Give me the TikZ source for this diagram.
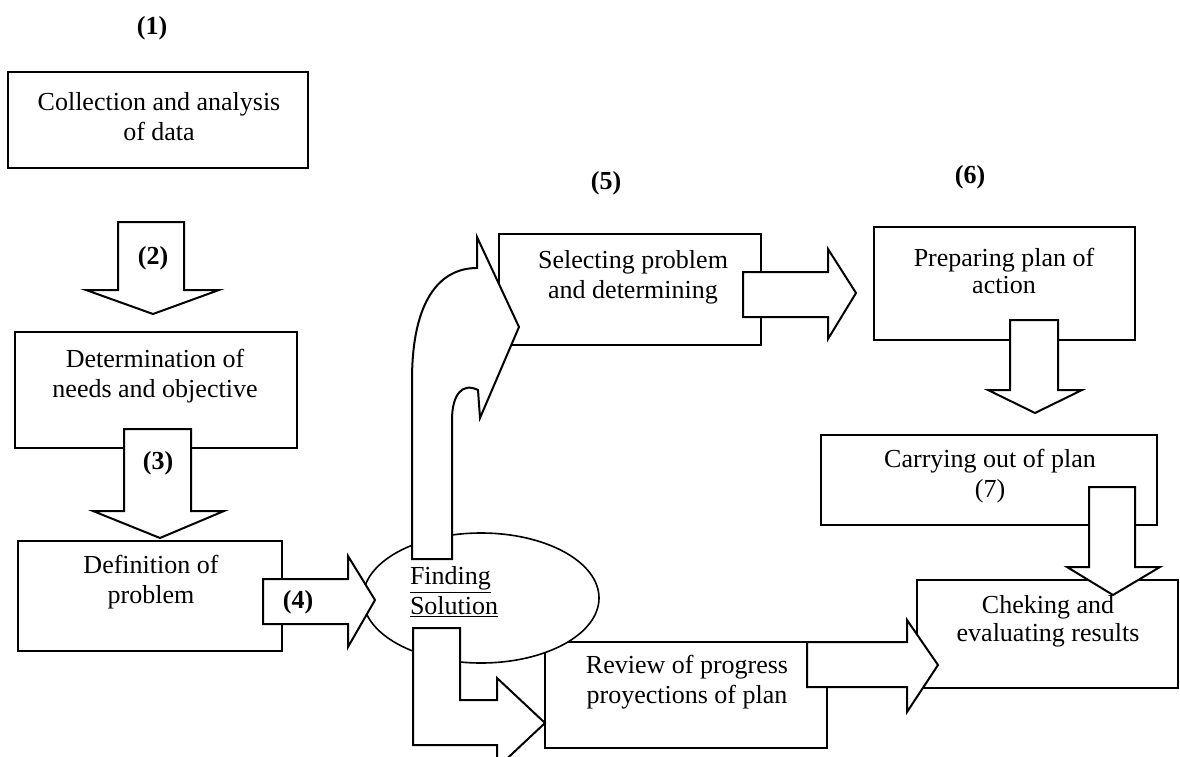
\documentclass[tikz,border=0pt]{standalone}
\usepackage{fontspec}
\setmainfont{Liberation Serif}
\usetikzlibrary{shapes.geometric}
\begin{document}
\begin{tikzpicture}[x=1pt,y=-1pt, line width=2pt, line join=miter,
  box/.style={draw, fill=white, rectangle, inner sep=0pt},
  oval/.style={draw, fill=white, ellipse, inner sep=0pt, line width=1.6pt},
  txt/.style={font=\fontsize{26}{30}\selectfont, align=center, inner sep=0pt},
  num/.style={font=\fontsize{26}{30}\selectfont\bfseries, inner sep=0pt},
  blk/.style={draw, fill=white, line join=miter}]
\useasboundingbox (0,0) rectangle (1180,757);
\clip (0,0) rectangle (1180,757);

% boxes
\node[box, minimum width=300pt, minimum height=96pt]  (b1) at (158,120) {};
\node[box, minimum width=282pt, minimum height=116pt] (b2) at (156,390) {};
\node[box, minimum width=264pt, minimum height=110pt] (b3) at (150,596) {};
\node[box, minimum width=262pt, minimum height=111pt] (b5) at (630,289.5) {};
\node[box, minimum width=261pt, minimum height=113pt] (b6) at (1004,283.5) {};
\node[box, minimum width=336pt, minimum height=90pt]  (b7) at (989,480) {};
\node[box, minimum width=261pt, minimum height=108pt] (b8) at (1047.5,634) {};
\node[box, minimum width=282pt, minimum height=106pt] (b9) at (686,695) {};
\node[oval, minimum width=236pt, minimum height=130pt] (fs) at (481,598) {};

% block arrows
\draw[blk] (118,222) -- (184,222) -- (184,290) -- (219,290) -- (153,314) -- (86,290) -- (118,290) -- cycle;
\draw[blk] (124,429) -- (191,429) -- (191,511) -- (224,511) -- (160,538) -- (93,511) -- (124,511) -- cycle;
\draw[blk] (263,579) -- (348,579) -- (348,556) -- (375,600) -- (348,647) -- (348,624) -- (263,624) -- cycle;
\draw[blk] (412,559) -- (412,380) .. controls (412,300) and (440,268) .. (477,268) -- (477,237) -- (519,327) -- (480,418) -- (478,390) .. controls (462,382) and (452,395) .. (452,420) -- (452,559) -- cycle;
\draw[blk] (743,272) -- (828,272) -- (828,249) -- (856,293) -- (828,339) -- (828,317) -- (743,317) -- cycle;
\draw[blk] (1010,320) -- (1058,320) -- (1058,390) -- (1082,390) -- (1035,413) -- (988,390) -- (1010,390) -- cycle;
\draw[blk] (1089,487) -- (1135,487) -- (1135,567) -- (1160,567) -- (1113,595) -- (1067,567) -- (1089,567) -- cycle;
\draw[blk] (807,642) -- (907,642) -- (907,620) -- (938,665) -- (907,712) -- (907,687) -- (807,687) -- cycle;
\draw[blk] (413,628) -- (460,628) -- (460,700) -- (497,700) -- (497,678) -- (545,723) -- (497,768) -- (497,745) -- (413,745) -- cycle;

% texts
\node[txt] (t1) at (159,117) {Collection and analysis\\of data};
\node[txt] (t2) at (155,376) {Determination of\\needs and objective};
\node[txt] (t3) at (151,582) {Definition of\\problem};
\node[txt] (t5) at (633,277) {Selecting problem\\and determining};
\node[txt, font=\fontsize{26}{27}\selectfont] (t6) at (1004,271) {Preparing plan of\\action};
\node[txt] (t7) at (990,476) {Carrying out of plan\\(7)};
\node[txt, font=\fontsize{26}{28}\selectfont] (t8) at (1048,621) {Cheking and\\evaluating results};
\node[txt] (t9) at (687,682) {Review of progress\\proyections of plan};
\node[txt, align=left, anchor=west] (tf) at (409,592) {\underline{Finding}\\\underline{Solution}};

\node[num] (n1) at (152,28) {(1)};
\node[num] (n2) at (153,258) {(2)};
\node[num] (n3) at (158,463) {(3)};
\node[num] (n4) at (298,602) {(4)};
\node[num] (n5) at (606,183) {(5)};
\node[num] (n6) at (970,177) {(6)};
\end{tikzpicture}
\end{document}
